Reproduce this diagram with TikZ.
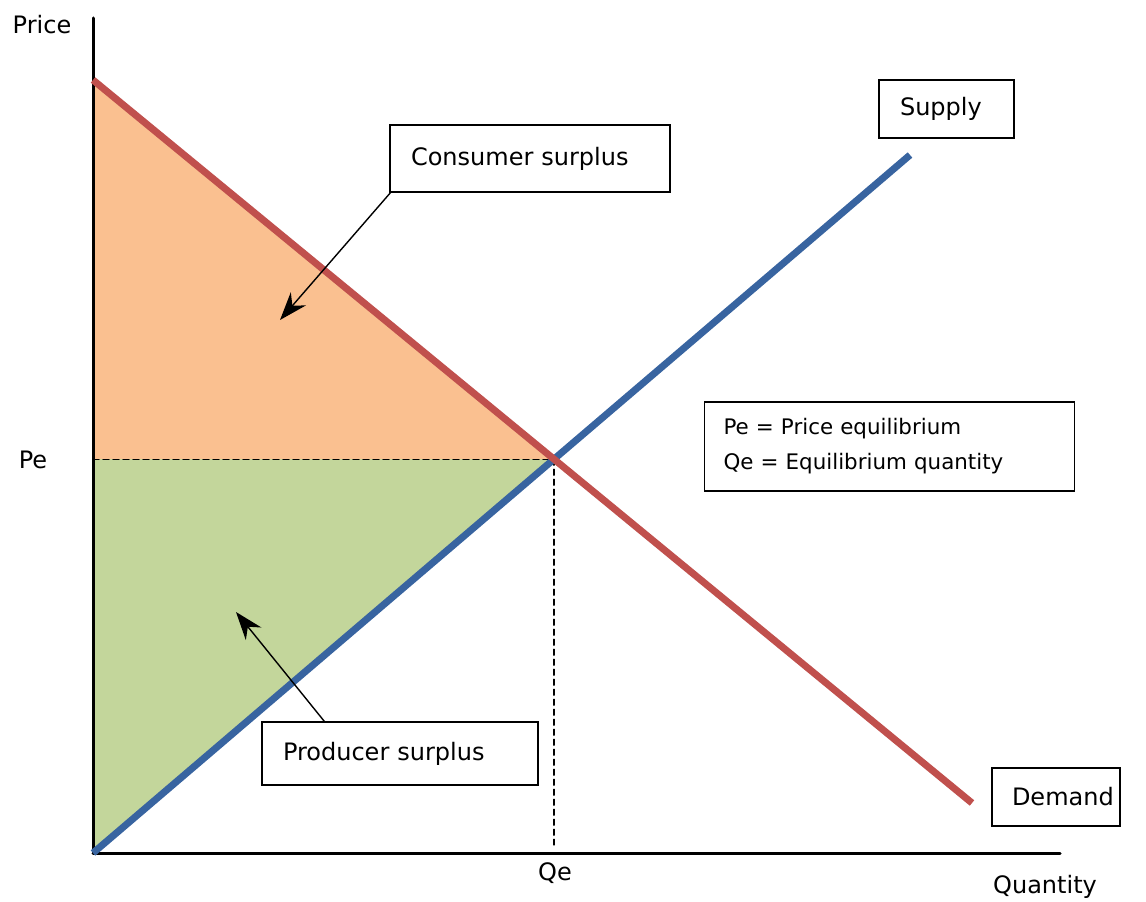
\documentclass[tikz,border=0pt]{standalone}
\usepackage{fontspec}
\setmainfont{DejaVu Sans}
\usepackage{tkz-euclide}
\usetikzlibrary{calc, arrows.meta}
\tikzset{>=stealth}
\definecolor{demandred}{RGB}{192,80,77}
\definecolor{supplyblue}{RGB}{56,100,160}
\definecolor{csfill}{RGB}{250,192,144}
\definecolor{psfill}{RGB}{195,214,155}
\tikzset{
  lbl/.style={font=\fontsize{12}{17.5}\selectfont},
  box/.style={draw, line width=0.75pt, lbl, inner xsep=10.5pt, inner ysep=0pt, align=left},
  curve/.style={line width=3.5pt, line cap=butt},
  pointer/.style={line width=0.7pt, -{Stealth[length=14pt, width=10pt]}}
}

\begin{document}
\begin{tikzpicture}[x=0.5pt,y=0.5pt]
    \useasboundingbox (0,0) rectangle (1146,901);
    \tkzDefPoints{93/48/O, 93/883/T, 1060/48/X, 93/821/A, 972/98/B, 910/746/C}
    \tkzDefPoints{554/441.8/E, 93/441.8/P, 554/56/Q}
    \tkzFillPolygon[fill=csfill](A,E,P)
    \tkzFillPolygon[fill=psfill](P,E,O)
    \tkzDrawSegments[line width=0.6pt, dash pattern=on 3pt off 2pt](P,E E,Q)
    \tkzDrawSegments[line width=1.5pt](O,T O,X)
    \tkzDrawSegment[curve, supplyblue](O,C)
    \tkzDrawSegment[curve, demandred](A,B)
    % axis labels
    \node[lbl] (price) at (42,876) {Price};
    \node[lbl] (pe) at (33,441) {Pe};
    \node[lbl] (qe) at (555,28) {Qe};
    \node[lbl] (quantity) at (1045,14) {Quantity};
    % boxes
    \node[box, text width=119pt, minimum height=33.5pt] (cs) at (530,742.5) {Consumer surplus};
    \node[box, text width=117pt, minimum height=31.5pt] (ps) at (400,147.5) {Producer surplus};
    \node[box, text width=46.5pt, minimum height=29pt] (supply) at (946.5,792) {Supply};
    \node[box, text width=44pt, minimum height=29pt, inner xsep=10pt] (demand) at (1056,104) {Demand};
    \node[box, font=\fontsize{10.7}{17.5}\selectfont, text width=166pt, minimum height=44.5pt,
        inner xsep=9.5pt] (legend) at (889.5,454.5)
        {Pe = Price equilibrium\\Qe = Equilibrium quantity};
    % arrows
    \coordinate (csend) at (280,581);
    \coordinate (psend) at (236,289);
    \draw[pointer] ($(cs.south west)+(2,1)$) -- (csend);
    \draw[pointer] ($(ps.north west)+(63,0)$) -- (psend);
\end{tikzpicture}
\end{document}
